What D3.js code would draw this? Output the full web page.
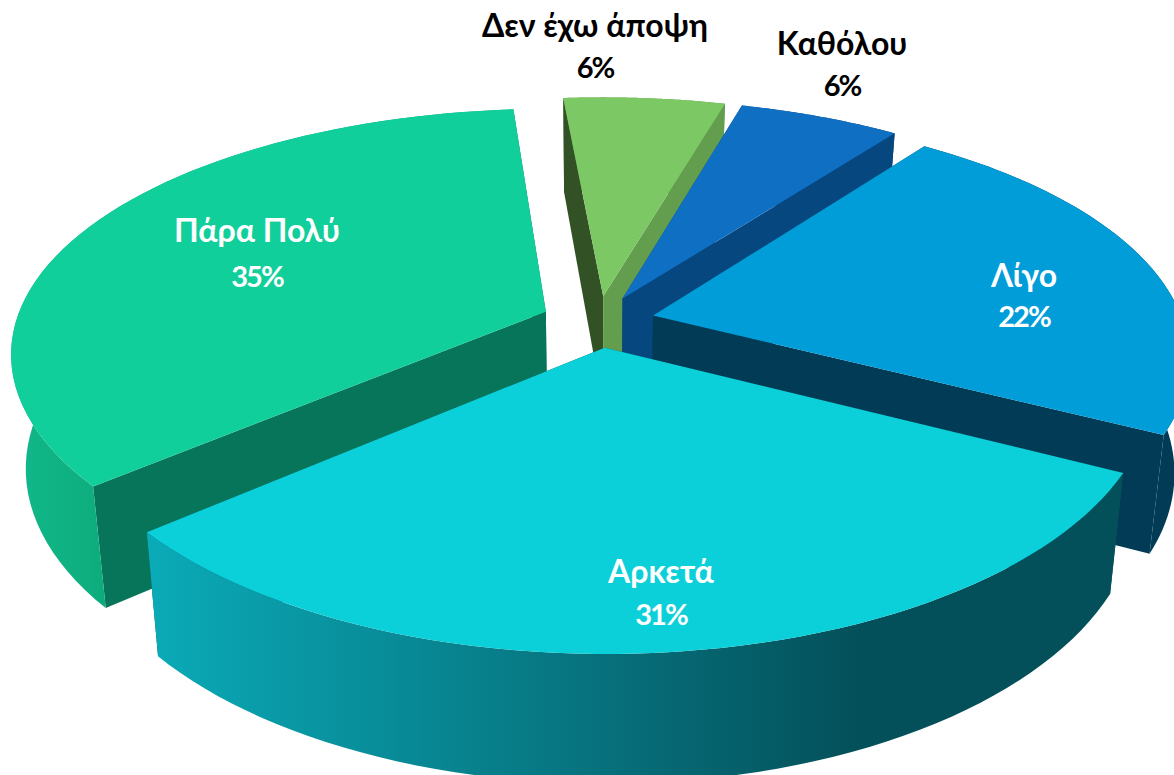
<!DOCTYPE html>
<html><head><meta charset="utf-8">
<style>html,body{margin:0;padding:0;background:#fff;overflow:hidden}svg{display:block}</style>
<script src="https://cdn.jsdelivr.net/npm/d3@7/dist/d3.min.js"></script>
</head><body><svg id="c" width="1174" height="775"></svg>
<script>
const categories = ["Δεν έχω άποψη","Καθόλου","Λίγο","Αρκετά","Πάρα Πολύ"];
const values = [5.75,5.75,22.45,31.2,34.85];
const topColors = ["#7cc864","#0f6fc3","#009dd9","#0bd0d9","#10cf9b"];
const cutColors = ["#325226","#07477f","#013b56","#04505a","#07755a"];
const rightCutColors = ["#639e4f","#07477f","#013b56","#04505a","#07755a"];
const wallStops = [["#639e4f","#639e4f"],["#07477f","#07477f"],["#013b56","#013b56"],["#0aabb8","#04505a"],["#11b98a","#0dab7c"]];
const labelColors = ["#000","#000","#fff","#fff","#fff"];
const labelAt = [[595,37],[842,55],[1024,287],[661,583],[257,242]];
const lineGaps = [41,41,40,42,45];

const W=1174,H=775,cx=598,cy=321.5,Rx=530,Ry=242,perspX=0.16,perspY=0.176,explode=0.107,shrink=0.975;
const x=d3.scaleLinear().domain([-1,1]).range([cx-Rx,cx+Rx]);
const y=d3.scaleLinear().domain([-1,1]).range([cy-Ry,cy+Ry]);
const depth=d3.scaleLinear().domain([-1,1]).range([96,128]);
const svg=d3.select("#c");
const defs=svg.append("defs");
const startDeg=-5;
const pie=d3.pie().sort(null).startAngle(startDeg*Math.PI/180).endAngle((startDeg+360)*Math.PI/180);
const arcs=pie(values);
function proj(u,v,bottom){
  let px=cx+(x(u)-cx)/(1-perspX*v), py=cy+(y(v)-cy)/(1-perspY*v);
  if(bottom){px=cx+(px-cx)*shrink;py=py+depth(v);}
  return [px,py];
}
const line=d3.line();
const order=d3.range(values.length).sort((a,b)=>{
  const m=i=>(arcs[i].startAngle+arcs[i].endAngle)/2;
  return (-Math.cos(m(a)))-(-Math.cos(m(b)));
});
order.forEach(i=>{
  const a=arcs[i],mid=(a.startAngle+a.endAngle)/2;
  const ou=explode*Math.sin(mid),ov=-explode*Math.cos(mid);
  const steps=d3.range(0,61).map(k=>a.startAngle+(a.endAngle-a.startAngle)*k/60);
  const rim=steps.map(t=>[ou+Math.sin(t),ov-Math.cos(t)]);
  const topRim=rim.map(p=>proj(p[0],p[1],false));
  const botRim=rim.map(p=>proj(p[0],p[1],true));
  const apexT=proj(ou,ov,false),apexB=proj(ou,ov,true);
  const g=svg.append("g");
  const id="w"+i;
  const lg=defs.append("linearGradient").attr("id",id).attr("gradientUnits","userSpaceOnUse")
    .attr("x1",i===3?145:10).attr("x2",i===3?860:110).attr("y1",0).attr("y2",0);
  lg.append("stop").attr("offset",0).attr("stop-color",wallStops[i][0]);
  lg.append("stop").attr("offset",1).attr("stop-color",wallStops[i][1]);
  const wall=()=>g.append("path").attr("d",line(topRim.concat(botRim.slice().reverse()))+"Z").attr("fill",`url(#${id})`);
  const back=Math.cos(mid)>0.5;
  if(back) wall();
  g.append("path").attr("d",line([apexT,topRim[0],botRim[0],apexB])+"Z").attr("fill",cutColors[i]);
  g.append("path").attr("d",line([apexT,topRim[60],botRim[60],apexB])+"Z").attr("fill",rightCutColors[i]);
  if(!back) wall();
  g.append("path").attr("d",line([apexT].concat(topRim))+"Z").attr("fill",topColors[i]);
});
const font="Lato, 'Open Sans', 'Noto Sans', sans-serif";
categories.forEach((c,i)=>{
  const t=svg.append("text").attr("text-anchor","middle").attr("font-family",font)
    .attr("font-weight",700).attr("fill",labelColors[i]);
  t.append("tspan").attr("x",labelAt[i][0]).attr("y",labelAt[i][1]).attr("font-size",32).text(c);
  t.append("tspan").attr("x",labelAt[i][0]).attr("y",labelAt[i][1]+lineGaps[i]).attr("font-size",29).attr("letter-spacing",-2).text(Math.round(values[i])+"%");
});
</script></body></html>
